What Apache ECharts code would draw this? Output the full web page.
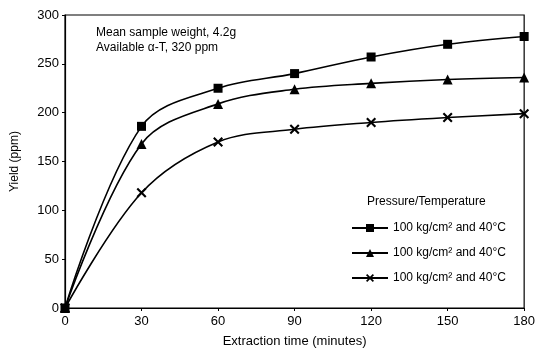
<!DOCTYPE html>
<html>
<head>
<meta charset="utf-8">
<script src="https://cdn.jsdelivr.net/npm/echarts@6/dist/echarts.min.js"></script>
<style>
  html, body { margin: 0; padding: 0; background: #fff; }
  #chart { width: 538px; height: 353px; }
</style>
</head>
<body>
<div id="chart"></div>
<script>
const times = [0, 30, 60, 90, 120, 150, 180];
const yieldSquare = [0, 186, 225, 240, 257, 270, 278];
const yieldTriangle = [0, 168, 209, 224, 230, 234, 236];
const yieldCross = [0, 118, 170, 183, 190, 195, 199];
const seriesNames = ['100 kg/cm² and 40°C', '100 kg/cm² and 40°C ', '100 kg/cm² and 40°C  '];

const font = 'Liberation Sans, Arial, sans-serif';
const crossPath = 'path://M0,1.5L1.5,0L5,3.5L8.5,0L10,1.5L6.5,5L10,8.5L8.5,10L5,6.5L1.5,10L0,8.5L3.5,5Z';

function pairs(vals) {
  return times.map((t, i) => [t, vals[i]]);
}

function lineSeries(name, vals, symbol, size) {
  return {
    name: name,
    type: 'line',
    data: pairs(vals),
    smooth: 0.35,
    symbol: symbol,
    symbolSize: size,
    lineStyle: { color: '#000', width: 1.6 },
    itemStyle: { color: '#000' }
  };
}

const chart = echarts.init(document.getElementById('chart'));
chart.setOption({
  animation: false,
  textStyle: { fontFamily: font },
  grid: { left: 65, right: 11, top: 15, bottom: 44, show: true, borderColor: '#000', borderWidth: 1.2 },
  xAxis: {
    type: 'value',
    min: 0, max: 180, interval: 30,
    name: 'Extraction time (minutes)',
    nameLocation: 'middle',
    nameGap: 27,
    nameTextStyle: { fontSize: 13, color: '#000' },
    axisLine: { lineStyle: { color: '#000', width: 1.2 } },
    axisTick: { length: 3, lineStyle: { color: '#000' } },
    axisLabel: { fontSize: 13, color: '#000', margin: 7 },
    splitLine: { show: false }
  },
  yAxis: {
    type: 'value',
    min: 0, max: 300, interval: 50,
    name: 'Yield (ppm)',
    nameLocation: 'middle',
    nameGap: 44,
    nameTextStyle: { fontSize: 12, color: '#000' },
    axisLine: { show: true, lineStyle: { color: '#000', width: 1.2 } },
    axisTick: { show: true, length: 3, lineStyle: { color: '#000' } },
    axisLabel: { fontSize: 13, color: '#000', margin: 6 },
    splitLine: { show: false }
  },
  legend: {
    orient: 'vertical',
    left: 346,
    top: 217,
    itemWidth: 36,
    itemHeight: 10,
    itemGap: 13,
    textStyle: { fontSize: 12, color: '#000' },
    data: seriesNames
  },
  graphic: [
    { type: 'text', left: 96, top: 25, style: { text: 'Mean sample weight, 4.2g\nAvailable α-T, 320 ppm', font: '12px ' + font, fill: '#000', lineHeight: 15 } },
    { type: 'text', left: 367, top: 196, style: { text: 'Pressure/Temperature', font: '12px ' + font, fill: '#000' } }
  ],
  series: [
    lineSeries(seriesNames[0], yieldSquare, 'rect', 9),
    lineSeries(seriesNames[1], yieldTriangle, 'triangle', 10),
    lineSeries(seriesNames[2], yieldCross, crossPath, 10)
  ]
});
</script>
</body>
</html>
